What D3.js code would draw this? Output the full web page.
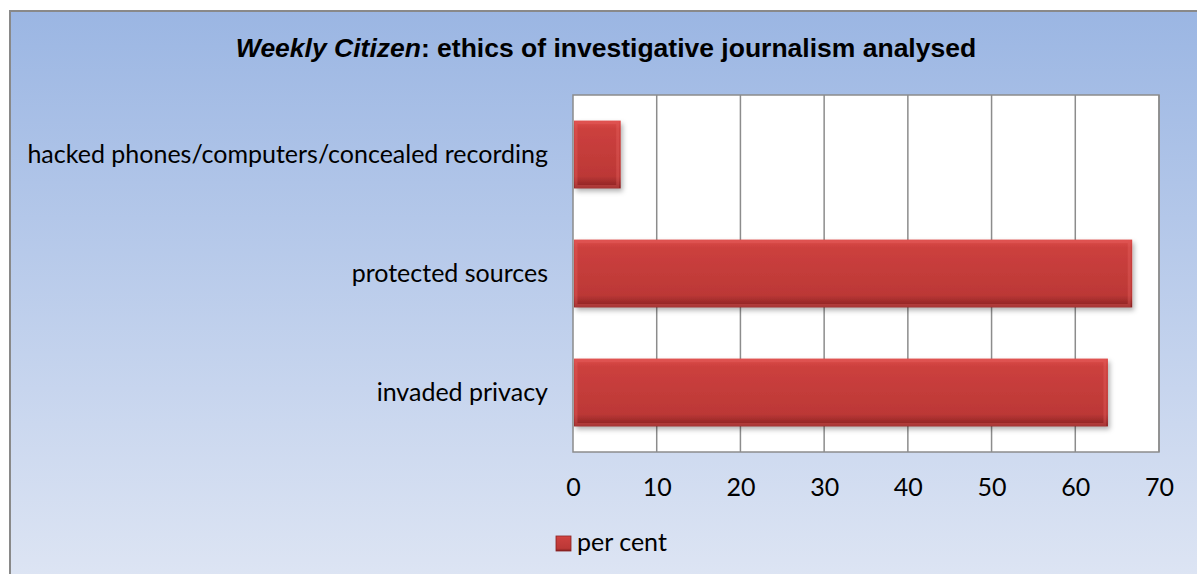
<!DOCTYPE html>
<html lang="en">
<head>
  <meta charset="UTF-8">
  <title>Weekly Citizen ethics</title>
  <script src="https://cdn.jsdelivr.net/npm/d3@7"></script>
  <style>
    body { margin: 0; background: #fff; }
    svg { display: block; }
  </style>
</head>
<body>
<script>
  // data
  const categories = ["hacked phones/computers/concealed recording", "protected sources", "invaded privacy"];
  const values = [5.7, 66.8, 63.9];
  const tickValues = [0, 10, 20, 30, 40, 50, 60, 70];
  const seriesName = "per cent";

  const W = 1197, H = 574;
  const plot = { left: 573, right: 1159, top: 95, bottom: 452 };

  const svg = d3.select("body").append("svg")
    .attr("width", W)
    .attr("height", H);

  const defs = svg.append("defs");

  // chart area background gradient
  const bg = defs.append("linearGradient").attr("id", "bg")
    .attr("x1", 0).attr("y1", 0).attr("x2", 0).attr("y2", 1);
  bg.append("stop").attr("offset", "0%").attr("stop-color", "#9bb6e3");
  bg.append("stop").attr("offset", "100%").attr("stop-color", "#dfe6f4");

  // bar bevel: vertical shading
  const barGrad = defs.append("linearGradient").attr("id", "barGrad")
    .attr("x1", 0).attr("y1", 0).attr("x2", 0).attr("y2", 1);
  barGrad.append("stop").attr("offset", "0%").attr("stop-color", "#de4c4a");
  barGrad.append("stop").attr("offset", "12%").attr("stop-color", "#cc403e");
  barGrad.append("stop").attr("offset", "82%").attr("stop-color", "#bc3836");
  barGrad.append("stop").attr("offset", "100%").attr("stop-color", "#862020");

  const shadow = defs.append("filter").attr("id", "shadow")
    .attr("x", "-10%").attr("y", "-10%").attr("width", "130%").attr("height", "140%");
  shadow.append("feDropShadow").attr("dx", 2).attr("dy", 3).attr("stdDeviation", 2.5)
    .attr("flood-color", "#000").attr("flood-opacity", 0.3);

  svg.append("rect")
    .attr("x", 10).attr("y", 11)
    .attr("width", W + 10).attr("height", H + 10)
    .attr("fill", "url(#bg)")
    .attr("stroke", "#898989")
    .attr("stroke-width", 2);

  // title
  const title = svg.append("text")
    .attr("x", 606).attr("y", 57)
    .attr("text-anchor", "middle")
    .style("font-family", "Liberation Sans, Arial, sans-serif")
    .style("font-size", "26.5px")
    .style("font-weight", "bold");
  title.append("tspan").style("font-style", "italic").text("Weekly Citizen");
  title.append("tspan").text(": ethics of investigative journalism analysed");

  const x = d3.scaleLinear().domain([0, 70]).range([plot.left, plot.right]);
  const y = d3.scaleBand().domain(categories).range([plot.top, plot.bottom]).paddingInner(0.43).paddingOuter(0.215);

  // plot area
  svg.append("rect")
    .attr("x", plot.left).attr("y", plot.top)
    .attr("width", plot.right - plot.left).attr("height", plot.bottom - plot.top)
    .attr("fill", "#fff");

  svg.append("g")
    .selectAll("line")
    .data(tickValues.slice(1))
    .join("line")
    .attr("x1", d => x(d)).attr("x2", d => x(d))
    .attr("y1", plot.top).attr("y2", plot.bottom)
    .attr("stroke", "#8c8c8c")
    .attr("stroke-width", 1.5);

  svg.append("rect")
    .attr("x", plot.left).attr("y", plot.top)
    .attr("width", plot.right - plot.left).attr("height", plot.bottom - plot.top)
    .attr("fill", "none")
    .attr("stroke", "#8c8c8c")
    .attr("stroke-width", 1.5);

  // bars
  const bars = svg.append("g").selectAll("g")
    .data(categories)
    .join("g");

  bars.append("rect")
    .attr("x", x(0) + 1)
    .attr("y", d => y(d))
    .attr("width", (d, i) => x(values[i]) - x(0) - 1)
    .attr("height", y.bandwidth())
    .attr("fill", "url(#barGrad)")
    .attr("filter", "url(#shadow)");

  // bevel highlights
  bars.append("rect")
    .attr("x", x(0) + 3)
    .attr("y", d => y(d) + 2)
    .attr("width", (d, i) => Math.max(0, x(values[i]) - x(0) - 6))
    .attr("height", y.bandwidth() - 4)
    .attr("fill", "none")
    .attr("stroke", "#e86462")
    .attr("stroke-opacity", 0.35)
    .attr("stroke-width", 3);

  // category labels
  svg.append("g").selectAll("text")
    .data(categories)
    .join("text")
    .attr("x", plot.left - 25)
    .attr("y", d => y(d) + y.bandwidth() / 2)
    .attr("dy", "0.35em")
    .attr("text-anchor", "end")
    .style("font-family", "Lato, sans-serif")
    .style("font-size", "25px")
    .text(d => d);

  // x axis
  const xAxis = svg.append("g")
    .attr("transform", `translate(0,${plot.bottom})`)
    .call(d3.axisBottom(x).tickValues(tickValues).tickSize(0).tickPadding(44));
  xAxis.select(".domain").remove();
  xAxis.selectAll("text")
    .attr("dy", 0)
    .style("font-family", "Lato, sans-serif")
    .style("font-size", "25px")
    .attr("fill", "#000");

  // legend
  const legend = svg.append("g").attr("transform", "translate(556,536)");
  legend.append("rect")
    .attr("width", 15).attr("height", 15)
    .attr("fill", "url(#barGrad)")
    .attr("stroke", "#862020")
    .attr("stroke-width", 0.8);
  legend.append("text")
    .attr("x", 21).attr("y", 15)
    .style("font-family", "Lato, sans-serif")
    .style("font-size", "25px")
    .text(seriesName);
</script>
</body>
</html>
